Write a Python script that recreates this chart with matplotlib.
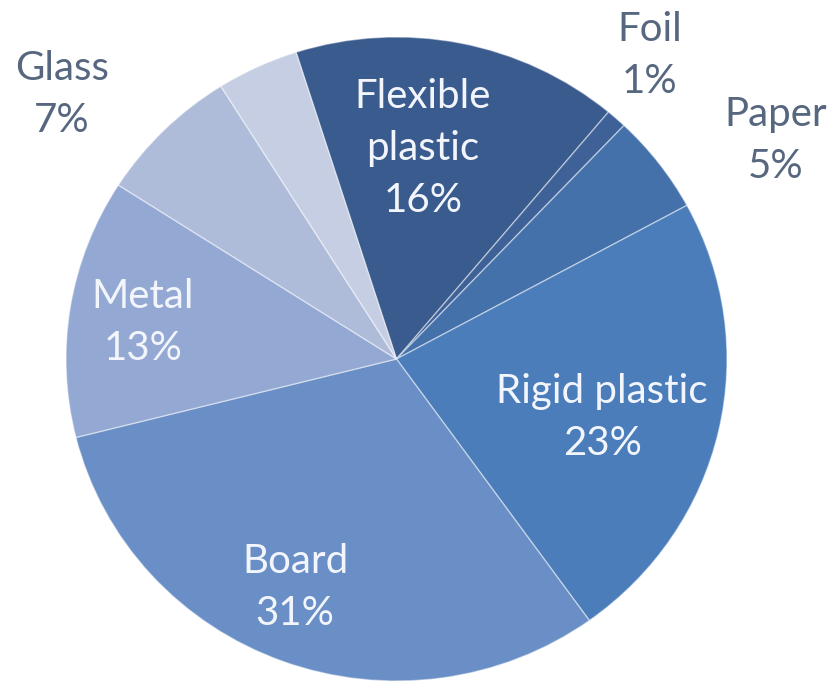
import matplotlib
matplotlib.use("Agg")
import matplotlib.pyplot as plt

# Packaging material shares (%), clockwise from the top
categories = ["Flexible plastic", "Foil", "Paper", "Rigid plastic",
              "Board", "Metal", "Glass", ""]
shares = [16, 1, 5, 23, 31, 13, 7, 4]

colors = ["#3A5B8D", "#3E6298", "#4571AA", "#4A7DBA",
          "#6A8FC6", "#93A8D2", "#AEBCDA", "#C6CEE4"]

# label anchor (x, y) in pie units, and whether the label sits inside the slice
label_pos = {
    "Flexible plastic": ((0.080, 0.655), True),
    "Foil": ((0.767, 0.944), False),
    "Paper": ((1.148, 0.680), False),
    "Rigid plastic": ((0.622, -0.183), True),
    "Board": ((-0.307, -0.711), True),
    "Metal": ((-0.767, 0.112), True),
    "Glass": ((-1.012, 0.820), False),
}
label_text = {
    "Flexible plastic": "Flexible\nplastic",
    "Rigid plastic": "Rigid plastic",
}

fig = plt.figure(figsize=(8.35, 6.84), dpi=100)
ax = fig.add_axes([0, 0, 1, 1])

wedges, _ = ax.pie(shares, colors=colors, startangle=107.7, counterclock=False,
                   wedgeprops=dict(edgecolor=(1, 1, 1, 0.45), linewidth=1.0))

ax.set_aspect("auto")
ax.set_xlim(-1.1997, 1.3268)
ax.set_ylim(-1.0093, 1.1149)
ax.axis("off")

font = ["Lato", "DejaVu Sans"]
for cat, val in zip(categories, shares):
    if not cat:
        continue
    (x, y), inside = label_pos[cat]
    txt = f"{label_text.get(cat, cat)}\n{val}%"
    ax.text(x, y, txt, ha="center", va="center", fontsize=29,
            family=font, linespacing=1.5,
            color="#F2F5FB" if inside else "#56677F")

fig.savefig("out.png", dpi=100)
